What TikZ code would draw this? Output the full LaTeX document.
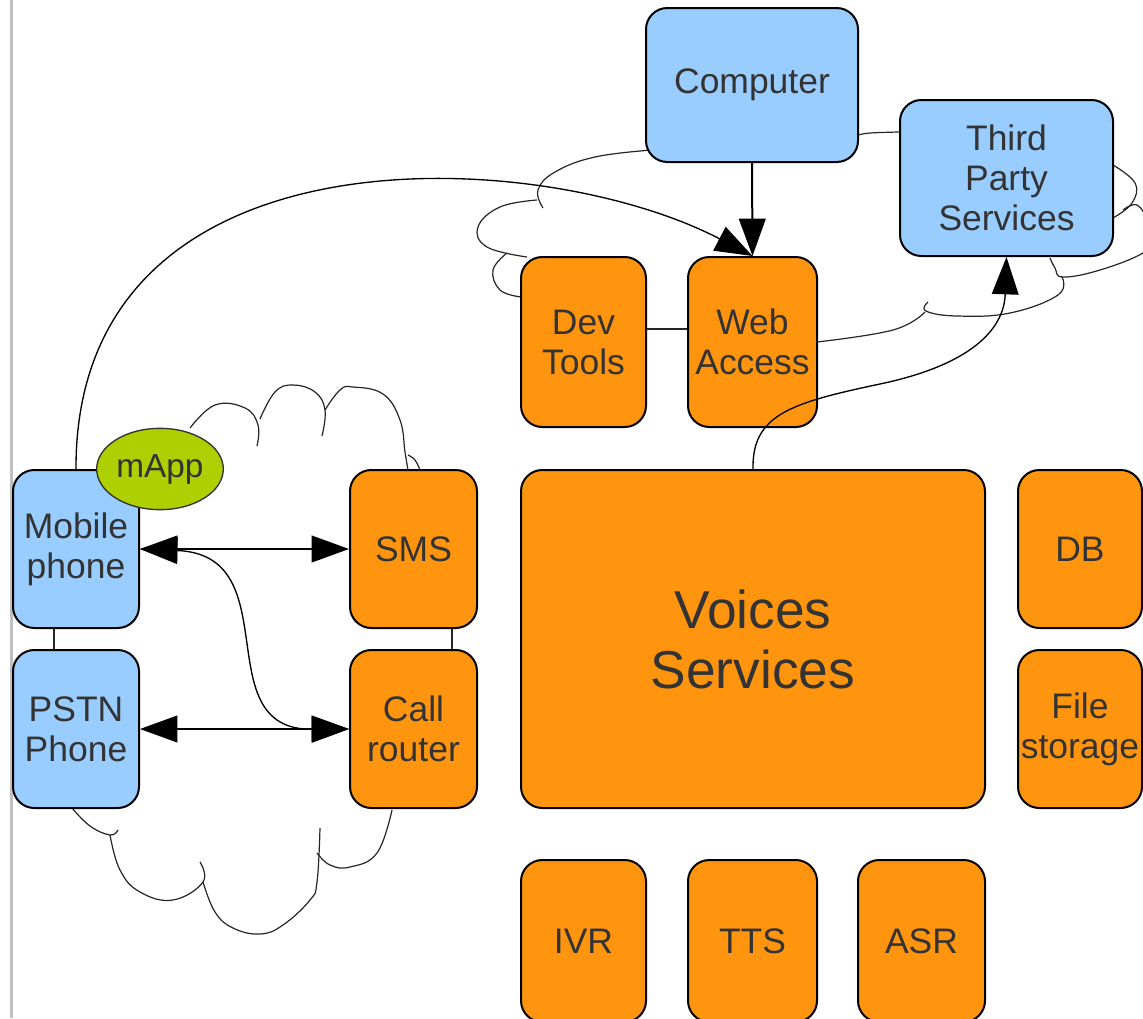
\documentclass[tikz,border=0pt]{standalone}
\usepackage{fontspec}
\setmainfont{Liberation Sans}
\usetikzlibrary{arrows.meta,shapes.geometric}
\definecolor{bluef}{HTML}{99CCFF}
\definecolor{orangef}{HTML}{FF950E}
\definecolor{greenf}{HTML}{AECF00}
\definecolor{txt}{HTML}{333333}
\begin{document}
\begin{tikzpicture}[x=0.75pt,y=-0.75pt,
  box/.style={draw=black, line width=1.5pt, rounded corners=16pt, inner sep=0pt, align=center, text=txt, font=\fontsize{26.6}{30}\selectfont},
  bluebox/.style={box, fill=bluef},
  orangebox/.style={box, fill=orangef},
  wh/.style 2 args={minimum width={#1*0.75pt}, minimum height={#2*0.75pt}},
  bigtext/.style={font=\fontsize{40}{45}\selectfont},
  cloudline/.style={draw=black!85, line width=0.9pt},
  link/.style={draw=black, line width=1.5pt},
  curvelink/.style={draw=black, line width=1pt},
  headtip/.style={-{Triangle[length=28pt,width=20pt]}},
  bothtip/.style={{Triangle[length=28pt,width=20pt]}-{Triangle[length=28pt,width=20pt]}},
  appnode/.style={ellipse, draw=black!80, line width=1pt, fill=greenf, text=txt, inner sep=0pt, minimum width=95pt, minimum height=61pt, font=\fontsize{25}{29}\selectfont}
]
\useasboundingbox (0,0) rectangle (1143,1018);
\fill[white] (0,0) rectangle (1143,1018);
% page edge
\draw[black!25, line width=2.25pt] (11,0) -- (11,1018);

% ---- top cloud (behind boxes)
\draw[cloudline] plot[smooth, tension=0.7] coordinates {(652,150) (595,157) (555,172) (538,190) (543,208)};
\draw[cloudline] plot[smooth, tension=0.7] coordinates {(537,200) (500,207) (478,227) (487,247) (527,257)};
\draw[cloudline] plot[smooth, tension=0.7] coordinates {(507,253) (493,270) (500,290) (521,297)};
\draw[cloudline] plot[smooth, tension=0.6] coordinates {(858,135) (870,133) (899,132)};
\draw[cloudline] plot[smooth, tension=0.7] coordinates {(1113,165) (1135,183) (1132,203) (1113,218)};
\draw[cloudline] plot[smooth, tension=0.7] coordinates {(1123,210) (1137,205) (1148,222) (1150,240) (1143,253) (1100,270) (1063,277) (1055,268) (1050,258)};
\draw[cloudline] plot[smooth, tension=0.7] coordinates {(1062,277) (1058,295) (1010,313) (957,316) (926,311) (928,302)};
\draw[cloudline] plot[smooth, tension=0.7] coordinates {(925,312) (893,330) (817,342)};

% ---- left cloud (behind boxes)
\draw[cloudline] plot[smooth, tension=0.7] coordinates {(190,428) (215,405) (245,408) (258,425) (257,446)};
\draw[cloudline] plot[smooth, tension=0.7] coordinates {(260,419) (275,392) (293,385) (315,392) (325,410) (322,436)};
\draw[cloudline] plot[smooth, tension=0.7] coordinates {(325,410) (340,390) (353,387) (383,394) (400,420) (405,452) (408,470)};
\draw[cloudline] plot[smooth, tension=0.7] coordinates {(408,455) (415,460) (420,470)};
\draw[cloudline] (54,628) -- (54,650);
\draw[cloudline] (452,628) -- (452,650);
\draw[cloudline] plot[smooth, tension=0.7] coordinates {(72,808) (90,826) (110,835) (118,830)};
\draw[cloudline] plot[smooth, tension=0.7] coordinates {(110,835) (120,870) (140,892) (173,900) (203,882) (200,862)};
\draw[cloudline] plot[smooth, tension=0.7] coordinates {(203,882) (215,912) (233,928) (260,934) (283,925) (310,900) (317,882) (320,828)};
\draw[cloudline] plot[smooth, tension=0.7] coordinates {(317,853) (330,865) (350,867) (377,853) (392,810)};

% ---- boxes
\node[bluebox, wh={212}{154}] (computer) at (752,85) {Computer};
\node[bluebox, wh={213}{156}] (third) at (1006.5,178) {Third\\Party\\Services};
\node[orangebox, wh={125}{170}] (dev) at (583.5,342) {Dev\\Tools};
\node[orangebox, wh={129}{170}] (web) at (752.5,342) {Web\\Access};
\node[bluebox, wh={126}{158}] (mobile) at (76,549) {Mobile\\phone};
\node[bluebox, wh={126}{158}] (pstn) at (76,729) {PSTN\\Phone};
\node[orangebox, wh={127}{158}] (sms) at (413.5,549) {SMS};
\node[orangebox, wh={127}{158}] (call) at (413.5,729) {Call\\router};
\node[orangebox, bigtext, wh={464}{338}] (voices) at (753,639) {Voices\\Services};
\node[orangebox, wh={124}{158}] (db) at (1080,549) {DB};
\node[orangebox, wh={124}{158}] (files) at (1080,729) {File\\storage};
\node[orangebox, wh={125}{162}] (ivr) at (583.5,941) {IVR};
\node[orangebox, wh={129}{162}] (tts) at (752.5,941) {TTS};
\node[orangebox, wh={127}{162}] (asr) at (921.5,941) {ASR};
\node[appnode] (mapp) at (160,469) {mApp};

% ---- connectors
\draw[cloudline, line width=1.3pt] ([yshift=9.75pt]dev.east) -- ([yshift=9.75pt]web.west);
\draw[link, headtip] (computer.south) -- (web.north);
\draw[curvelink, headtip] (mobile.north) .. controls (75,120) and (540,145) .. (web.north);
\draw[link, bothtip] (mobile.east) -- (sms.west);
\draw[link, bothtip] (pstn.east) -- (call.west);
\draw[curvelink, bothtip] (mobile.east) .. controls (290,555) and (205,730) .. (call.west);
\draw[curvelink, headtip] (voices.north) .. controls (752,415) and (790,403) .. (880,384) .. controls (970,365) and (1004,330) .. (third.south);
\end{tikzpicture}
\end{document}
